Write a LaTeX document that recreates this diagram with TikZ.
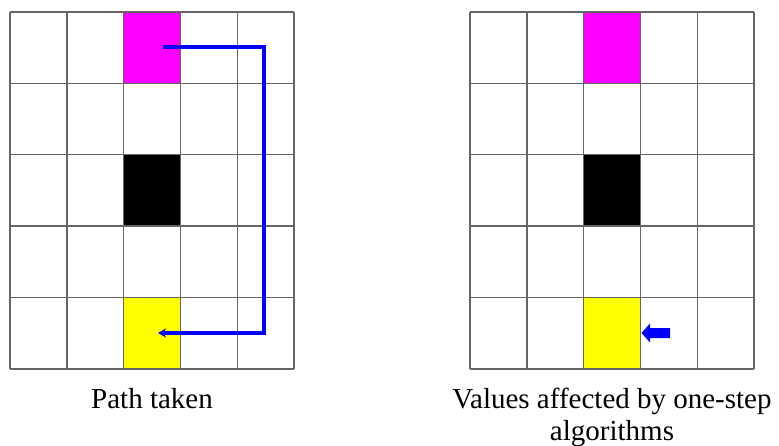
\documentclass[tikz,border=0pt]{standalone}
\usepackage{fontspec}
\setmainfont{Liberation Serif}
\usetikzlibrary{arrows.meta}
\definecolor{goalmag}{RGB}{255,0,255}
\definecolor{startyel}{RGB}{255,255,0}
\definecolor{pathblue}{RGB}{0,0,255}
\begin{document}
\begin{tikzpicture}[x=1pt,y=-1pt,
  gridline/.style={draw=black!60,line width=1.4pt},
  cellbox/.style={minimum width=56.8pt,minimum height=71.4pt,inner sep=0pt,outer sep=0pt,draw=none},
  route/.style={draw=pathblue,line width=3.2pt,-{Stealth[length=8pt,width=9pt]}},
  caption/.style={font=\fontsize{29}{32}\selectfont,inner sep=0pt,anchor=north,align=center}]
\useasboundingbox (0,0) rectangle (779,446);
% coloured cells, left grid
\node[cellbox,fill=goalmag,anchor=north west] (lgoal) at (123.6,12) {};
\node[cellbox,fill=black,anchor=north west] (lwall) at (123.6,154.8) {};
\node[cellbox,fill=startyel,anchor=north west] (lstart) at (123.6,297.6) {};
% coloured cells, right grid
\node[cellbox,fill=goalmag,anchor=north west] (rgoal) at (583.6,12) {};
\node[cellbox,fill=black,anchor=north west] (rwall) at (583.6,154.8) {};
\node[cellbox,fill=startyel,anchor=north west] (rstart) at (583.6,297.6) {};
% grid lines
\foreach \ox in {10,470}{
  \foreach \i in {0,...,5}{
    \draw[gridline] (\ox+56.8*\i,12) -- (\ox+56.8*\i,369);
    \draw[gridline] (\ox,12+71.4*\i) -- (\ox+284,12+71.4*\i);
  }
}
% route taken in the left grid
\coordinate (pa) at (163,47);
\coordinate (pb) at (264,47);
\coordinate (pc) at (264,333);
\coordinate (pd) at (158,333);
\draw[route,line join=miter] (pa) -- (pb) -- (pc) -- (pd);
% block arrow in the right grid
\fill[pathblue] (670,328) -- (650,328) -- (650,323.5) -- (641.5,333) -- (650,342.5) -- (650,338) -- (670,338) -- cycle;
% captions
\node[caption] (cl) at (152,388) {Path taken};
\node[caption] (cr) at (612,388) {Values affected by one-step\\algorithms};
\end{tikzpicture}
\end{document}
